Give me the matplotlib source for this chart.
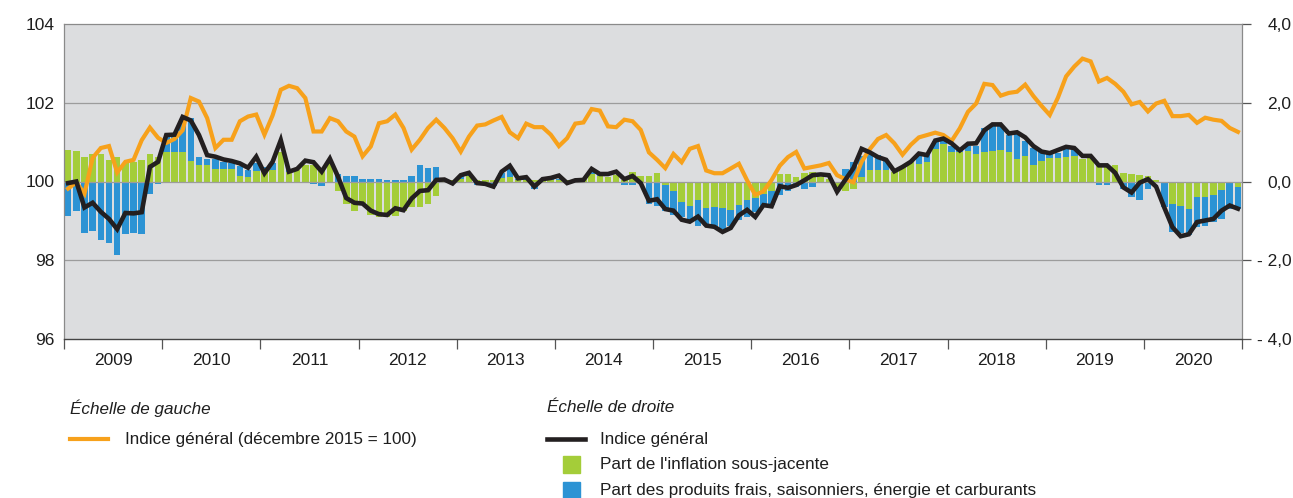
import numpy as np
import matplotlib.pyplot as plt
from matplotlib.lines import Line2D
from matplotlib.patches import Rectangle

plt.rcParams['font.family'] = ['Liberation Sans', 'DejaVu Sans']
plt.rcParams['font.size'] = 12

years = [str(y) for y in range(2009, 2021)]

# Echelle de gauche : indice general (decembre 2015 = 100), mensuel 2009-2020
indice_100 = [
    99.82, 99.98, 99.69, 100.60, 100.85, 100.90, 100.23, 100.50, 100.55, 101.05, 101.37, 101.11,  # 2009
    100.98, 101.08, 101.30, 102.12, 102.03, 101.61, 100.85, 101.06, 101.06, 101.53, 101.65, 101.70,  # 2010
    101.19, 101.68, 102.33, 102.43, 102.37, 102.12, 101.27, 101.27, 101.61, 101.53, 101.27, 101.14,  # 2011
    100.64, 100.89, 101.48, 101.53, 101.70, 101.36, 100.81, 101.06, 101.36, 101.57, 101.36, 101.10,  # 2012
    100.76, 101.14, 101.42, 101.45, 101.55, 101.64, 101.25, 101.10, 101.47, 101.38, 101.38, 101.19,  # 2013
    100.90, 101.10, 101.47, 101.50, 101.84, 101.80, 101.40, 101.38, 101.57, 101.53, 101.31, 100.74,  # 2014
    100.55, 100.34, 100.70, 100.49, 100.83, 100.90, 100.28, 100.21, 100.21, 100.33, 100.45, 100.03,  # 2015
    99.66, 99.75, 100.04, 100.40, 100.62, 100.75, 100.33, 100.37, 100.41, 100.47, 100.16, 100.06,  # 2016
    99.98, 100.50, 100.82, 101.08, 101.18, 100.97, 100.68, 100.93, 101.12, 101.18, 101.24, 101.18,  # 2017
    101.03, 101.35, 101.77, 101.98, 102.48, 102.45, 102.18, 102.25, 102.28, 102.46, 102.17, 101.92,  # 2018
    101.69, 102.13, 102.67, 102.92, 103.12, 103.05, 102.54, 102.63, 102.48, 102.28, 101.96, 102.02,  # 2019
    101.78, 101.98, 102.05, 101.66, 101.66, 101.69, 101.49, 101.62, 101.57, 101.54, 101.36, 101.26,  # 2020
]

# Echelle de droite : glissement annuel (%)
indice_gen = [
    -0.04, 0.00, -0.66, -0.54, -0.77, -0.95, -1.21, -0.80, -0.81, -0.78, 0.37, 0.50,
    1.18, 1.19, 1.64, 1.55, 1.18, 0.67, 0.63, 0.56, 0.52, 0.46, 0.35, 0.63,
    0.21, 0.50, 1.05, 0.25, 0.32, 0.53, 0.49, 0.25, 0.58, 0.12, -0.42, -0.54,
    -0.56, -0.74, -0.83, -0.85, -0.68, -0.73, -0.43, -0.24, -0.22, 0.04, 0.05, -0.05,
    0.16, 0.22, -0.04, -0.06, -0.13, 0.25, 0.40, 0.08, 0.11, -0.13, 0.06, 0.09,
    0.15, -0.04, 0.03, 0.04, 0.32, 0.19, 0.19, 0.25, 0.06, 0.14, -0.04, -0.49,
    -0.45, -0.70, -0.74, -0.97, -1.02, -0.89, -1.12, -1.15, -1.28, -1.18, -0.86, -0.72,
    -0.90, -0.60, -0.63, -0.12, -0.16, -0.09, 0.03, 0.16, 0.18, 0.16, -0.26, 0.04,
    0.34, 0.83, 0.74, 0.62, 0.55, 0.26, 0.37, 0.50, 0.71, 0.67, 1.04, 1.09,
    0.97, 0.79, 0.96, 0.97, 1.30, 1.45, 1.45, 1.22, 1.25, 1.12, 0.90, 0.76,
    0.72, 0.80, 0.88, 0.85, 0.65, 0.65, 0.41, 0.41, 0.22, -0.15, -0.28, -0.03,
    0.06, -0.13, -0.66, -1.16, -1.39, -1.34, -1.03, -0.99, -0.95, -0.74, -0.61, -0.69,
]

# Part de l'inflation sous-jacente (points)
sous_jacente = [
    0.80, 0.77, 0.63, 0.71, 0.69, 0.54, 0.63, 0.47, 0.50, 0.54, 0.69, 0.63,
    0.74, 0.74, 0.74, 0.52, 0.42, 0.42, 0.33, 0.31, 0.31, 0.14, 0.12, 0.27,
    0.28, 0.30, 0.75, 0.24, 0.28, 0.43, 0.41, 0.32, 0.49, -0.25, -0.57, -0.74,
    -0.54, -0.84, -0.91, -0.89, -0.87, -0.74, -0.64, -0.64, -0.57, -0.36, 0.03, 0.05,
    0.06, 0.13, 0.05, 0.03, 0.03, 0.10, 0.12, 0.05, 0.05, 0.03, 0.05, 0.05,
    0.05, 0.03, 0.05, 0.08, 0.20, 0.15, 0.12, 0.17, 0.05, 0.25, 0.15, 0.15,
    0.21, -0.10, -0.25, -0.51, -0.63, -0.46, -0.68, -0.64, -0.68, -0.72, -0.59, -0.47,
    -0.42, -0.31, -0.23, 0.19, 0.19, 0.11, 0.21, 0.24, 0.11, 0.07, -0.20, -0.25,
    -0.20, 0.11, 0.30, 0.30, 0.30, 0.25, 0.38, 0.50, 0.45, 0.50, 0.82, 0.96,
    0.74, 0.74, 0.78, 0.69, 0.75, 0.78, 0.80, 0.74, 0.57, 0.64, 0.41, 0.51,
    0.60, 0.60, 0.62, 0.64, 0.56, 0.60, 0.45, 0.41, 0.43, 0.21, 0.19, 0.17,
    0.15, 0.04, -0.04, -0.57, -0.61, -0.69, -0.40, -0.40, -0.34, -0.21, -0.04, -0.14,
]

# Part des produits frais, saisonniers, energie et carburants (points)
produits_frais = [
    -0.87, -0.75, -1.31, -1.25, -1.49, -1.55, -1.86, -1.34, -1.32, -1.34, -0.32, -0.07,
    0.40, 0.44, 0.85, 1.10, 0.21, 0.14, 0.23, 0.19, 0.15, 0.25, 0.17, 0.19,
    0.10, 0.18, 0.00, 0.04, 0.00, 0.00, -0.06, -0.12, 0.02, 0.18, 0.15, 0.15,
    0.07, 0.07, 0.07, 0.03, 0.03, 0.03, 0.15, 0.41, 0.34, 0.36, -0.02, -0.05,
    0.08, 0.08, -0.08, -0.10, -0.12, 0.12, 0.22, 0.02, 0.04, -0.18, 0.02, 0.03,
    0.02, -0.05, -0.02, 0.00, 0.05, 0.03, -0.05, -0.05, -0.08, -0.10, -0.04, -0.57,
    -0.61, -0.64, -0.59, -0.40, -0.34, -0.66, -0.44, -0.52, -0.52, -0.40, -0.40, -0.44,
    -0.36, -0.34, -0.37, -0.34, -0.23, -0.14, -0.19, -0.14, -0.05, 0.00, -0.05, 0.32,
    0.50, 0.55, 0.46, 0.38, 0.21, -0.04, 0.00, 0.00, 0.25, 0.18, 0.20, 0.06,
    0.15, 0.05, 0.11, 0.22, 0.61, 0.64, 0.62, 0.45, 0.68, 0.40, 0.44, 0.27,
    0.10, 0.12, 0.20, 0.16, 0.00, 0.00, -0.08, -0.08, -0.04, -0.19, -0.40, -0.47,
    -0.20, -0.05, -0.61, -0.72, -0.70, -0.68, -0.76, -0.72, -0.69, -0.74, -0.65, -0.55,
]

c_orange = '#F7A11B'
c_black = '#231F20'
c_green = '#A4CD39'
c_blue = '#2C93D4'
c_bg = '#DCDDDF'
c_grid = '#9C9C9C'
c_txt = '#1E1E1E'

W, H = 1293, 498
fig = plt.figure(figsize=(W / 100, H / 100), dpi=100)
ax = fig.add_axes([64 / W, 1 - 339 / H, 1178 / W, 315 / H])
ax.set_facecolor(c_bg)
axl = ax.twinx()   # echelle de gauche
axb = ax.twinx()   # indice general (echelle de droite), au-dessus

mois = np.arange(len(indice_100))
g = np.array(sous_jacente)
b = np.array(produits_frais)
# le bleu s'empile sur le vert s'ils sont de meme signe, sinon part de zero
b_bottom = np.where(np.sign(b) == np.sign(g), g, 0)

ax.bar(mois, g, width=0.8, color=c_green, zorder=2)
ax.bar(mois, b, bottom=b_bottom, width=0.8, color=c_blue, zorder=2)

ax.set_ylim(-4, 4)
ax.set_xlim(-0.5, len(mois) - 0.5)
for yv in [-2, 0, 2]:
    ax.axhline(yv, color=c_grid, lw=0.9, zorder=1 if yv else 3)

# axe de droite
ax.yaxis.tick_right()
ax.set_yticks([-4, -2, 0, 2, 4])
ax.set_yticklabels(['- 4,0', '- 2,0', '0,0', '2,0', '4,0'], ha='right')
ax.tick_params(axis='y', direction='out', length=6.5, width=0.9, color='#555555',
               pad=29, labelsize=12.5, labelcolor=c_txt)

# annees
bornes = np.arange(0, len(mois) + 1, 12) - 0.5
ax.set_xticks(bornes)
ax.set_xticklabels([])
ax.set_xticks(bornes[:-1] + 6, minor=True)
ax.set_xticklabels(years, minor=True)
ax.tick_params(axis='x', which='major', direction='out', length=7, width=0.9, color='#555555')
ax.tick_params(axis='x', which='minor', length=0, pad=10, labelsize=12.5, labelcolor=c_txt)

for s in ['left', 'right', 'top']:
    ax.spines[s].set_color('#8A8A8A')
    ax.spines[s].set_linewidth(0.9)
ax.spines['bottom'].set_color('#444444')
ax.spines['bottom'].set_linewidth(1.0)

# echelle de gauche
axl.yaxis.tick_left()
axl.set_ylim(96, 104)
axl.set_yticks([96, 98, 100, 102, 104])
axl.tick_params(axis='y', length=0, pad=7, labelsize=12.5, labelcolor=c_txt)
axl.plot(mois, indice_100, color=c_orange, lw=3, solid_joinstyle='miter', zorder=3)
for s in axl.spines.values():
    s.set_visible(False)

axb.set_ylim(-4, 4)
axb.set_yticks([])
axb.plot(mois, indice_gen, color=c_black, lw=3.3, solid_joinstyle='miter', zorder=4)
for s in axb.spines.values():
    s.set_visible(False)

# legende
def fx(x):
    return x / W

def fy(y):
    return 1 - y / H

leg_font = dict(family=['Liberation Sans Narrow', 'Liberation Sans', 'DejaVu Sans'],
                fontsize=12.3, color=c_txt, va='center')
fig.text(fx(70), fy(408), 'Échelle de gauche', style='italic', **leg_font)
fig.text(fx(547), fy(408), 'Échelle de droite', style='italic', **leg_font)

fig.add_artist(Line2D([fx(70), fx(108)], [fy(439), fy(439)], color=c_orange, lw=3,
                      transform=fig.transFigure))
fig.text(fx(125), fy(439), 'Indice général (décembre 2015 = 100)', **leg_font)

fig.add_artist(Line2D([fx(547), fx(585)], [fy(439), fy(439)], color=c_black, lw=3.3,
                      transform=fig.transFigure))
fig.text(fx(600), fy(439), 'Indice général', **leg_font)

fig.add_artist(Rectangle((fx(563), fy(473)), fx(17), 17 / H, color=c_green,
                         transform=fig.transFigure))
fig.text(fx(600), fy(465), "Part de l'inflation sous-jacente", **leg_font)

fig.add_artist(Rectangle((fx(563), fy(498)), fx(17), 16 / H, color=c_blue,
                         transform=fig.transFigure))
fig.text(fx(600), fy(490), 'Part des produits frais, saisonniers, énergie et carburants', **leg_font)

fig.savefig('out.png', dpi=100)
